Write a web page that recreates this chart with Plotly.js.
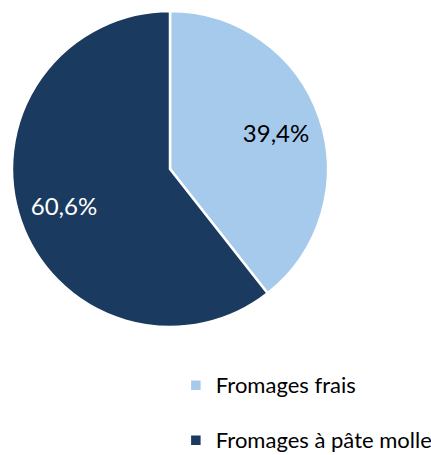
<!DOCTYPE html>
<html><head><meta charset="utf-8">
<script src="https://cdn.plot.ly/plotly-3.0.1.min.js"></script>
<style>html,body{margin:0;padding:0;background:#fff}</style>
</head><body>
<div id="chart" style="width:431px;height:455px"></div>
<script>
const labels = ["Fromages frais", "Fromages à pâte molle"];
const values = [39.4, 60.6];
const colors = ["#A6CAEC", "#1A3A60"];
const textColors = ["#000000", "#FFFFFF"];

const legendLabels = labels.map(l => '<span style="font-size:22px;baseline-shift:8px">' + l + '</span>');
const pieDomain = {x: [12/431, 328/431], y: [128/455, 444/455]};
const fontFam = 'Lato, Liberation Sans, sans-serif';

Plotly.newPlot('chart', [{
  type: 'pie',
  labels: legendLabels,
  values: values,
  sort: false,
  direction: 'clockwise',
  rotation: 0,
  marker: {colors: colors, line: {color: '#FFFFFF', width: 2.5}},
  textinfo: 'none',
  hoverinfo: 'label+percent',
  domain: pieDomain
}, {
  type: 'pie',
  labels: legendLabels,
  values: values,
  sort: false,
  direction: 'clockwise',
  rotation: 0,
  hole: 0.42,
  showlegend: false,
  marker: {colors: ['rgba(0,0,0,0)', 'rgba(0,0,0,0)'], line: {width: 0}},
  texttemplate: '%{percent:.1%}',
  textposition: 'inside',
  insidetextorientation: 'horizontal',
  textfont: {family: fontFam, size: 24, color: textColors},
  hoverinfo: 'skip',
  domain: pieDomain
}], {
  width: 431, height: 455,
  margin: {l: 0, r: 0, t: 0, b: 0, autoexpand: false},
  separators: ', ',
  showlegend: true,
  legend: {
    x: 0.408, xanchor: 'left', y: 0.093, yanchor: 'middle',
    bgcolor: 'rgba(0,0,0,0)',
    font: {family: fontFam, size: 40, color: '#000'},
    traceorder: 'normal'
  },
  paper_bgcolor: '#fff'
}, {displayModeBar: false, staticPlot: true});
</script>
</body></html>
